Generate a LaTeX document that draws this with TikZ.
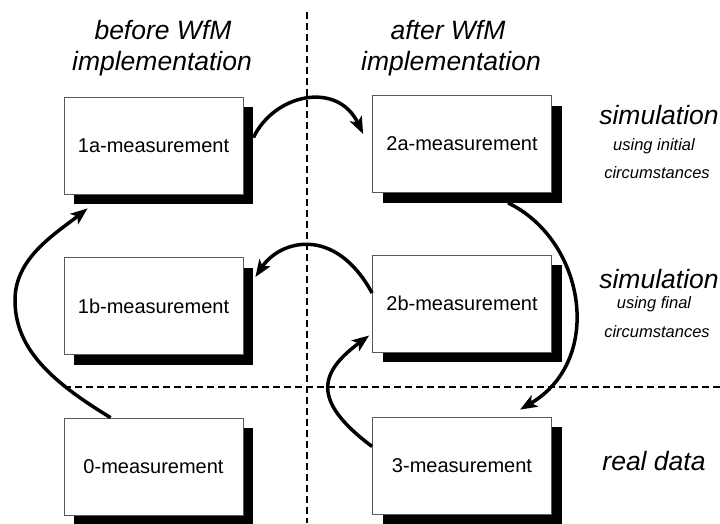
\documentclass[tikz,border=0pt]{standalone}
\usepackage{fontspec}
\setmainfont{Liberation Sans}
\usetikzlibrary{arrows.meta,shadows,calc}
\begin{document}
\begin{tikzpicture}[x=1pt,y=-1pt,
  mbox/.style={draw=black!65, line width=0.8pt, fill=white, minimum width=179pt, minimum height=97pt, inner sep=0pt,
    font=\fontsize{20}{24}\selectfont,
    general shadow={fill=black, shadow xshift=10pt, shadow yshift=-10pt}},
  conn/.style={line width=3.5pt, -{Stealth[length=17pt,width=13pt,inset=4pt]}},
  sep/.style={line width=1.4pt, dash pattern=on 7pt off 4pt},
  big/.style={font=\fontsize{26.5}{30}\selectfont\itshape, anchor=base, inner sep=0pt},
  small/.style={font=\fontsize{16.5}{20}\selectfont\itshape, anchor=base, inner sep=0pt}]
\useasboundingbox (0,0) rectangle (720,523);
% separators
\coordinate (vtop) at (307,12);
\coordinate (vbot) at (307,523);
\coordinate (hl) at (64,387);
\coordinate (hr) at (720,387);
\draw[sep] (vtop) -- (vbot);
\draw[sep] (hl) -- (hr);
% column titles
\node[big] (tb1) at (163,39) {before WfM};
\node[big] (tb2) at (162,70) {implementation};
\node[big] (ta1) at (448,39) {after WfM};
\node[big] (ta2) at (451,70) {implementation};
% row labels
\node[big] (r1) at (659,124) {simulation};
\node[small] (r1a) at (654,150) {using initial};
\node[small] (r1b) at (657,178) {circumstances};
\node[big] (r2) at (659,288) {simulation};
\node[small] (r2a) at (654,308) {using final};
\node[small] (r2b) at (657,337) {circumstances};
\node[big] (r3) at (654,470) {real data};
% boxes
\node[mbox] (m1a) at (153.5,145.5) {1a-measurement};
\node[mbox] (m1b) at (153.5,306) {1b-measurement};
\node[mbox] (m0) at (153.5,466.5) {0-measurement};
\node[mbox] (m2a) at (462,144) {2a-measurement};
\node[mbox] (m2b) at (462,303.5) {2b-measurement};
\node[mbox] (m3) at (462,465.5) {3-measurement};
% connectors
\coordinate (w0) at (15,300);
\draw[conn] ($(m0.north west)+(47,0)$) .. controls (45,378) and (15,345) .. (w0)
  .. controls (15,258) and (55,234) .. ($(m1a.south west)+(24,14)$);
\draw[conn] ($(m1a.east)+(10,-8)$) .. controls (275,93) and (338,81) .. ($(m2a.west)+(-9,-10)$);
\draw[conn] ($(m2a.south)+(46,10)$) .. controls (585,240) and (605,360) .. ($(m3.north)+(58,-7)$);
\draw[conn] ($(m3.west)+(0,-19)$) .. controls (310,400) and (320,372) .. ($(m2b.west)+(-3,32)$);
\draw[conn] ($(m2b.west)+(0,-10.5)$) .. controls (335,225) and (280,240) .. ($(m1b.east)+(12,-29)$);
\end{tikzpicture}
\end{document}
